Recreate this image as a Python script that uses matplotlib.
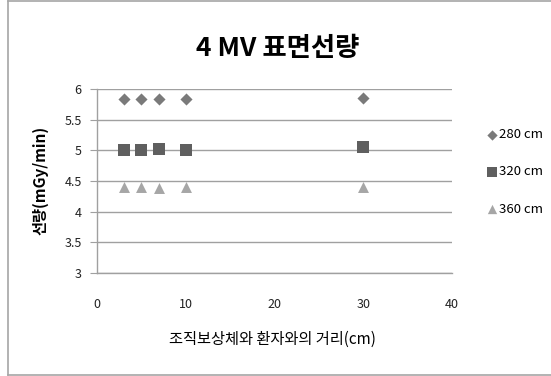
import matplotlib
matplotlib.use("Agg")
import matplotlib.pyplot as plt
from matplotlib.lines import Line2D

plt.rcParams['font.family'] = ['Noto Sans CJK KR', 'DejaVu Sans']

# Distance between compensator and patient (cm)
distance = [3, 5, 7, 10, 30]
# Surface dose rate (mGy/min) for each SSD
dose_280 = [5.84, 5.84, 5.84, 5.84, 5.85]
dose_320 = [5.01, 5.00, 5.02, 5.01, 5.06]
dose_360 = [4.40, 4.40, 4.38, 4.40, 4.40]
series_labels = ["280 cm", "320 cm", "360 cm"]

title = "4 MV 표면선량"
xlabel = "조직보상체와 환자와의 거리(cm)"
ylabel = "선량(mGy/min)"
xticks = [0, 10, 20, 30, 40]
yticks = [3, 3.5, 4, 4.5, 5, 5.5, 6]

W, H = 551, 376
fig = plt.figure(figsize=(W / 100, H / 100), dpi=100)
fig.patch.set_facecolor("white")

# chart-area border (left, top, bottom edges)
border = "#a6a6a6"
for xs, ys in [((7.5, 7.5), (1, 374.5)),
               ((7.5, W), (1, 1)),
               ((7.5, W), (374.5, 374.5))]:
    fig.add_artist(Line2D([x / W for x in xs], [1 - y / H for y in ys],
                          transform=fig.transFigure, color=border,
                          linewidth=1.2))

ax = fig.add_axes([97 / W, 103 / H, 355 / W, 184 / H])
ax.set_xlim(0, 40)
ax.set_ylim(3, 6)
ax.set_xticks(xticks)
ax.set_yticks(yticks)
ax.set_yticklabels([f"{v:g}" for v in yticks])

grid_col = "#a0a0a0"
ax.yaxis.grid(True, color=grid_col, linewidth=1.0)
ax.set_axisbelow(True)
for side in ["top", "right"]:
    ax.spines[side].set_visible(False)
for side in ["left", "bottom"]:
    ax.spines[side].set_color(grid_col)
    ax.spines[side].set_linewidth(1.0)

ax.tick_params(axis="y", length=5, color=grid_col, labelsize=9, pad=6,
               labelcolor="#222222")
ax.tick_params(axis="x", length=0, labelsize=9, pad=18, labelcolor="#222222")

ax.scatter(distance, dose_280, marker="D", s=38, color="#7a7a7a",
           label=series_labels[0], zorder=3, linewidths=0)
ax.scatter(distance, dose_320, marker="s", s=64, color="#5f5f5f",
           label=series_labels[1], zorder=3, linewidths=0)
ax.scatter(distance, dose_360, marker="^", s=62, color="#a6a6a6",
           label=series_labels[2], zorder=3, linewidths=0)

fig.text(278 / W, 1 - 48 / H, title, ha="center", va="center",
         fontsize=19, fontweight="bold")
fig.text(272 / W, 1 - 339 / H, xlabel, ha="center", va="center",
         fontsize=11, fontweight="medium")
fig.text(40 / W, 1 - 180 / H, ylabel, ha="center", va="center",
         fontsize=11, fontweight="bold", rotation=90)

leg = ax.legend(loc="center left", bbox_to_anchor=(477 / W, 1 - 172 / H),
                bbox_transform=fig.transFigure, frameon=False, fontsize=9.5,
                handletextpad=0.0, labelspacing=1.85, markerscale=0.85,
                handlelength=1.2, borderpad=0)

fig.savefig("out.png", dpi=100)
